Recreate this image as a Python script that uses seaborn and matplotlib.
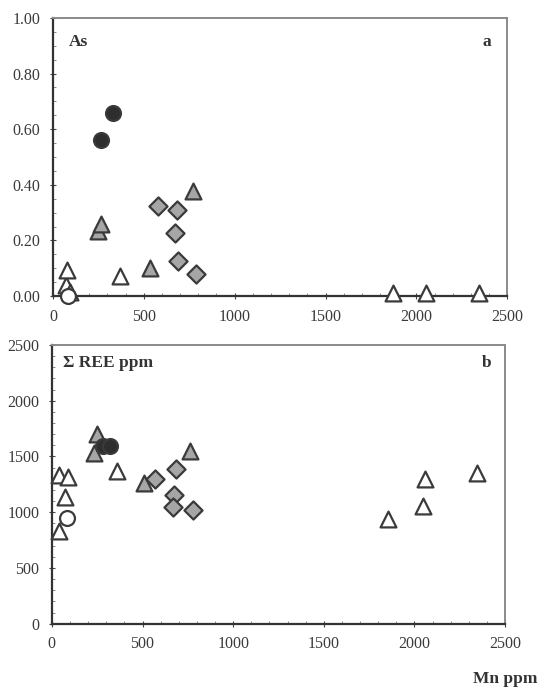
import matplotlib
matplotlib.use("Agg")
import matplotlib.pyplot as plt
from matplotlib.ticker import MultipleLocator
import seaborn as sns
import pandas as pd

sns.set_style("white")
plt.rcParams['font.family'] = ['Liberation Serif', 'DejaVu Serif']

# ---- Panel a: As vs Mn ----
as_open_tri_mn = [70, 80, 92, 370, 1869, 2052, 2346]
as_open_tri_val = [0.04, 0.095, 0.015, 0.072, 0.012, 0.012, 0.012]
as_gray_tri_mn = [250, 262, 534, 773]
as_gray_tri_val = [0.235, 0.258, 0.10, 0.379]
as_filled_circ_mn = [263, 329]
as_filled_circ_val = [0.562, 0.657]
as_open_circ_mn = [84]
as_open_circ_val = [0.0]
as_diamond_mn = [576, 681, 672, 690, 786]
as_diamond_val = [0.325, 0.31, 0.226, 0.126, 0.079]

# ---- Panel b: Sum REE vs Mn ----
ree_open_tri_mn = [40, 90, 72, 40, 360, 1856, 2049, 2058, 2347]
ree_open_tri_val = [1335, 1314, 1135, 836, 1371, 938, 1057, 1296, 1356]
ree_gray_tri_mn = [247, 233, 509, 762]
ree_gray_tri_val = [1702, 1529, 1260, 1553]
ree_filled_circ_mn = [283, 320]
ree_filled_circ_val = [1590, 1590]
ree_open_circ_mn = [81]
ree_open_circ_val = [947]
ree_diamond_mn = [570, 684, 673, 666, 776]
ree_diamond_val = [1296, 1386, 1156, 1045, 1021]

x_ticks = [0, 500, 1000, 1500, 2000, 2500]
as_ticks = [0.0, 0.2, 0.4, 0.6, 0.8, 1.0]
ree_ticks = [0, 500, 1000, 1500, 2000, 2500]

EDGE = '#3a3a3a'
groups = [
    # name, marker, face, size
    ('open_tri', '^', 'white', 130),
    ('gray_tri', '^', '#a6a6a6', 130),
    ('filled_circ', 'o', '#2e2e2e', 115),
    ('open_circ', 'o', 'white', 115),
    ('diamond', 'D', '#a6a6a6', 85),
]

fig = plt.figure(figsize=(5.46, 6.87), dpi=100)
ax1 = fig.add_axes([0.097, 0.569, 0.832, 0.405])
ax2 = fig.add_axes([0.095, 0.092, 0.830, 0.406])

data_a = {
    'open_tri': (as_open_tri_mn, as_open_tri_val),
    'gray_tri': (as_gray_tri_mn, as_gray_tri_val),
    'filled_circ': (as_filled_circ_mn, as_filled_circ_val),
    'open_circ': (as_open_circ_mn, as_open_circ_val),
    'diamond': (as_diamond_mn, as_diamond_val),
}
data_b = {
    'open_tri': (ree_open_tri_mn, ree_open_tri_val),
    'gray_tri': (ree_gray_tri_mn, ree_gray_tri_val),
    'filled_circ': (ree_filled_circ_mn, ree_filled_circ_val),
    'open_circ': (ree_open_circ_mn, ree_open_circ_val),
    'diamond': (ree_diamond_mn, ree_diamond_val),
}

for ax, data in ((ax1, data_a), (ax2, data_b)):
    for name, marker, face, size in groups:
        xs, ys = data[name]
        df = pd.DataFrame({'Mn': xs, 'v': ys})
        sns.scatterplot(data=df, x='Mn', y='v', ax=ax, marker=marker,
                        color=face, edgecolor=EDGE, linewidth=1.6, s=size,
                        zorder=3, clip_on=False, legend=False)
    ax.set_xlim(0, 2500)
    ax.set_xticks(x_ticks)
    ax.xaxis.set_minor_locator(MultipleLocator(100))
    ax.set_xlabel('')
    ax.set_ylabel('')
    for side in ('left', 'bottom'):
        ax.spines[side].set_color('#333333')
        ax.spines[side].set_linewidth(1.6)
    for side in ('top', 'right'):
        ax.spines[side].set_color('#8a8a8a')
        ax.spines[side].set_linewidth(1.4)
    ax.tick_params(axis='both', which='major', direction='inout', length=4,
                   width=0.8, colors='#444444', labelsize=11.5,
                   labelcolor='#3a3a3a', bottom=True, left=True, pad=7)
    ax.tick_params(axis='both', which='minor', direction='in', length=2,
                   width=0.6, colors='#777777', bottom=True, left=True)

ax1.set_ylim(0, 1.0)
ax1.set_yticks(as_ticks)
ax1.set_yticklabels([f'{t:.2f}' for t in as_ticks])
ax1.yaxis.set_minor_locator(MultipleLocator(0.05))
ax2.set_ylim(0, 2500)
ax2.set_yticks(ree_ticks)
ax2.yaxis.set_minor_locator(MultipleLocator(100))

ax1.text(0.035, 0.915, 'As', transform=ax1.transAxes, fontsize=12.5,
         fontweight='bold', color='#333333', va='center')
ax1.text(0.965, 0.915, 'a', transform=ax1.transAxes, fontsize=12.5,
         fontweight='bold', color='#333333', va='center', ha='right')
ax2.text(0.025, 0.935, 'Σ REE ppm', transform=ax2.transAxes, fontsize=12.5,
         fontweight='bold', color='#333333', va='center')
ax2.text(0.97, 0.935, 'b', transform=ax2.transAxes, fontsize=12.5,
         fontweight='bold', color='#333333', va='center', ha='right')
fig.text(0.985, 0.0, 'Mn ppm', fontsize=12.5, fontweight='bold',
         color='#333333', ha='right', va='bottom')

fig.savefig('out.png', dpi=100, facecolor='white')
